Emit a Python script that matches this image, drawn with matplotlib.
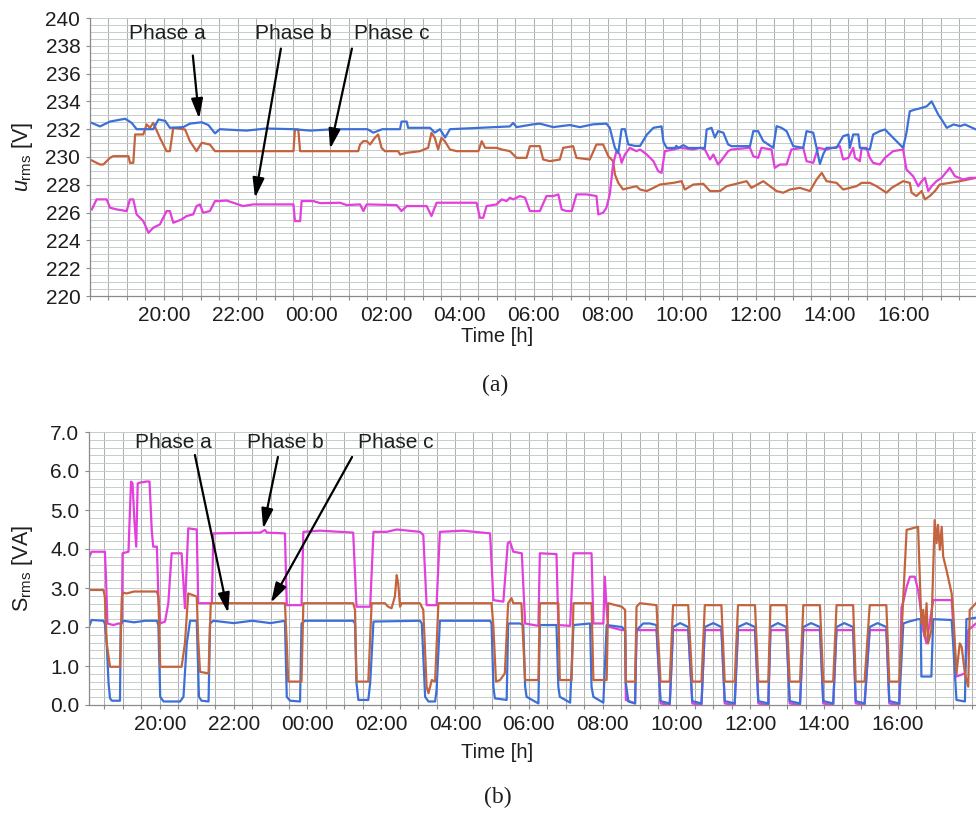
import matplotlib
matplotlib.use("Agg")
import matplotlib.pyplot as plt
from matplotlib.ticker import MultipleLocator, FixedLocator, FormatStrFormatter

plt.rcParams["font.family"] = ["Liberation Sans", "DejaVu Sans"]
plt.rcParams["mathtext.fontset"] = "custom"
plt.rcParams["mathtext.rm"] = "Liberation Sans"
plt.rcParams["mathtext.it"] = "Liberation Sans:italic"

# Time axis: clock hours, values above 24 belong to the following day
tick_hours = [20, 22, 24, 26, 28, 30, 32, 34, 36, 38, 40]
tick_labels = ["20:00", "22:00", "00:00", "02:00", "04:00", "06:00",
               "08:00", "10:00", "12:00", "14:00", "16:00"]

phase_names = ["Phase a", "Phase b", "Phase c"]
phase_colors = ["#3c70d8", "#e23fdc", "#c4643e"]

# ---------------- (a) RMS voltage [V] ----------------
u_a_hours = [18.05, 18.27, 18.54, 18.95, 19.13, 19.26, 19.71, 19.85, 20.03, 20.16,
             20.52, 20.70, 21.02, 21.20, 21.38, 21.51, 22.23, 22.77, 23.50, 23.95,
             24.60, 25.50, 25.66, 25.90, 26.38, 26.42, 26.56, 26.60, 27.19, 27.32,
             27.46, 27.60, 27.73, 28.54, 29.35, 29.44, 29.53, 29.98, 30.16, 30.52,
             30.97, 31.24, 31.60, 31.96, 32.05, 32.19, 32.28, 32.37, 32.46, 32.55,
             32.73, 32.87, 33.05, 33.23, 33.45, 33.50, 33.59, 33.81, 33.85, 33.90,
             34.04, 34.17, 34.62, 34.67, 34.80, 34.89, 34.98, 35.12, 35.25, 35.34,
             35.84, 35.93, 36.06, 36.20, 36.47, 36.56, 36.69, 36.83, 37.01, 37.28,
             37.37, 37.55, 37.64, 37.73, 37.82, 37.91, 38.18, 38.36, 38.50, 38.54,
             38.63, 38.77, 38.81, 39.08, 39.17, 39.35, 39.49, 39.71, 39.98, 40.07,
             40.16, 40.30, 40.48, 40.62, 40.75, 40.84, 40.93, 41.02, 41.16, 41.34,
             41.52, 41.65, 41.95]
u_a_volts = [232.45, 232.20, 232.55, 232.75, 232.45, 232.00, 232.00, 232.70, 232.60, 232.10,
             232.15, 232.40, 232.50, 232.30, 231.70, 232.00, 231.90, 232.05, 232.00, 231.90,
             232.00, 232.00, 231.75, 232.00, 232.00, 232.55, 232.55, 232.10, 232.10, 231.75,
             232.00, 231.40, 232.00, 232.10, 232.20, 232.45, 232.15, 232.35, 232.40, 232.15,
             232.30, 232.15, 232.35, 232.40, 232.10, 230.65, 230.30, 232.00, 232.00, 230.90,
             230.80, 230.80, 231.60, 232.10, 232.20, 231.10, 230.65, 230.65, 230.80, 230.65,
             230.85, 230.65, 230.65, 231.98, 232.10, 231.40, 231.86, 231.75, 230.90, 230.78,
             230.78, 231.86, 231.86, 231.14, 230.66, 232.22, 232.10, 231.86, 230.78, 230.66,
             231.86, 231.75, 230.66, 229.50, 230.20, 230.66, 230.66, 231.50, 231.62, 230.66,
             231.62, 231.62, 230.66, 230.54, 231.62, 231.86, 231.98, 231.38, 230.66, 231.74,
             233.29, 233.41, 233.53, 233.65, 234.00, 233.53, 233.05, 232.70, 232.10, 232.34,
             232.22, 232.34, 231.98]

u_b_hours = [18.05, 18.18, 18.45, 18.54, 18.72, 18.99, 19.08, 19.17, 19.26, 19.44,
             19.58, 19.71, 19.89, 20.07, 20.16, 20.25, 20.48, 20.61, 20.79, 20.88,
             20.97, 21.06, 21.24, 21.38, 21.51, 21.69, 21.87, 22.14, 22.41, 23.50,
             23.54, 23.68, 23.72, 24.04, 24.22, 24.76, 24.94, 25.30, 25.39, 25.48,
             26.29, 26.42, 26.56, 27.10, 27.23, 27.37, 28.45, 28.54, 28.63, 28.72,
             28.99, 29.13, 29.26, 29.35, 29.44, 29.62, 29.76, 29.89, 30.16, 30.34,
             30.52, 30.66, 30.75, 30.88, 31.02, 31.15, 31.42, 31.69, 31.74, 31.87,
             31.96, 32.05, 32.14, 32.23, 32.32, 32.37, 32.46, 32.59, 32.77, 32.87,
             33.05, 33.23, 33.36, 33.45, 33.54, 33.77, 33.95, 34.31, 34.49, 34.62,
             34.76, 34.85, 34.98, 35.12, 35.25, 35.34, 35.84, 35.93, 36.06, 36.15,
             36.42, 36.51, 36.65, 36.83, 36.96, 37.28, 37.37, 37.55, 37.68, 37.91,
             38.09, 38.27, 38.36, 38.50, 38.63, 38.68, 38.81, 38.86, 38.99, 39.08,
             39.17, 39.35, 39.49, 39.71, 39.98, 40.07, 40.25, 40.39, 40.48, 40.57,
             40.66, 40.75, 40.88, 41.02, 41.24, 41.38, 41.60, 41.78, 41.95]
u_b_volts = [226.23, 226.95, 226.95, 226.35, 226.23, 226.11, 226.95, 226.95, 225.87, 225.39,
             224.55, 224.91, 225.15, 226.11, 226.11, 225.27, 225.51, 225.75, 225.87, 226.47,
             226.59, 225.99, 226.11, 226.83, 226.83, 226.87, 226.71, 226.47, 226.59, 226.59,
             225.39, 225.39, 226.83, 226.83, 226.68, 226.71, 226.54, 226.59, 226.11, 226.59,
             226.54, 226.11, 226.47, 226.47, 225.75, 226.71, 226.71, 225.63, 225.63, 226.47,
             226.59, 226.95, 226.83, 227.07, 226.95, 227.19, 227.07, 226.11, 226.11, 227.19,
             227.19, 227.31, 226.23, 226.11, 226.11, 227.31, 227.31, 227.19, 225.87, 225.99,
             226.35, 227.31, 229.46, 230.42, 230.18, 229.58, 230.18, 230.66, 230.42, 230.54,
             230.18, 229.70, 228.98, 228.86, 230.42, 230.54, 230.66, 230.54, 230.66, 230.54,
             229.82, 230.18, 229.46, 229.94, 230.42, 230.54, 230.66, 230.06, 229.94, 230.66,
             230.54, 229.22, 229.46, 229.46, 230.54, 230.66, 229.70, 229.58, 230.66, 230.54,
             230.66, 230.78, 229.82, 229.94, 230.66, 229.94, 229.70, 230.66, 230.66, 229.94,
             229.58, 229.46, 229.94, 230.42, 230.54, 229.10, 228.62, 227.90, 228.26, 228.50,
             227.55, 227.90, 228.26, 228.50, 229.22, 228.62, 228.38, 228.50, 228.50]

u_c_hours = [18.05, 18.27, 18.36, 18.54, 18.63, 19.04, 19.08, 19.17, 19.22, 19.44,
             19.53, 19.62, 19.71, 19.89, 19.98, 20.07, 20.16, 20.25, 20.57, 20.70,
             20.88, 21.02, 21.24, 21.38, 23.50, 23.54, 23.63, 23.68, 25.25, 25.30,
             25.39, 25.48, 25.57, 25.70, 25.79, 25.88, 25.97, 26.33, 26.38, 26.56,
             26.92, 27.14, 27.23, 27.32, 27.41, 27.50, 27.59, 27.73, 27.91, 28.50,
             28.59, 28.68, 28.99, 29.13, 29.35, 29.53, 29.80, 29.89, 30.16, 30.25,
             30.43, 30.70, 30.79, 31.06, 31.15, 31.51, 31.69, 31.87, 32.01, 32.14,
             32.19, 32.28, 32.41, 32.77, 32.87, 33.05, 33.23, 33.41, 33.77, 33.99,
             34.08, 34.31, 34.58, 34.76, 35.03, 35.21, 35.57, 35.75, 35.88, 36.20,
             36.38, 36.56, 36.74, 36.92, 37.19, 37.46, 37.64, 37.78, 37.91, 38.18,
             38.36, 38.72, 38.86, 39.08, 39.26, 39.53, 39.67, 39.98, 40.16, 40.21,
             40.34, 40.48, 40.57, 40.70, 40.84, 40.97, 41.24, 41.51, 41.95]
u_c_volts = [229.75, 229.46, 229.46, 229.94, 230.06, 230.06, 229.58, 229.58, 231.62, 231.62,
             232.34, 232.10, 232.46, 231.38, 230.90, 230.42, 230.42, 232.10, 231.98, 231.14,
             230.42, 231.02, 230.90, 230.42, 230.42, 231.98, 231.98, 230.42, 230.42, 230.90,
             231.14, 231.14, 230.90, 231.38, 231.62, 230.66, 230.42, 230.42, 230.18, 230.30,
             230.42, 230.66, 231.74, 231.38, 230.54, 231.38, 231.14, 230.54, 230.42, 230.42,
             231.14, 230.66, 230.66, 230.54, 230.42, 229.94, 229.94, 230.78, 230.78, 229.82,
             229.70, 229.82, 230.66, 230.78, 229.94, 229.82, 230.90, 230.90, 230.06, 229.70,
             228.74, 228.14, 227.67, 227.90, 227.66, 227.55, 227.78, 228.02, 228.14, 228.26,
             227.66, 228.02, 228.07, 227.55, 227.55, 227.90, 228.14, 228.26, 227.78, 228.26,
             227.90, 227.55, 227.43, 227.66, 227.78, 227.55, 228.38, 228.86, 228.26, 228.14,
             227.66, 227.90, 228.14, 228.14, 227.90, 227.43, 227.78, 228.26, 228.14, 227.43,
             227.19, 227.55, 226.95, 227.19, 227.55, 228.02, 228.14, 228.26, 228.50]

# ---------------- (b) apparent power [VA] ----------------
s_a_hours = [18.09, 18.15, 18.47, 18.51, 18.56, 18.61, 18.65, 18.70, 18.92, 18.94,
             19.01, 19.30, 19.60, 19.92, 19.96, 20.01, 20.10, 20.55, 20.64, 20.73,
             20.82, 21.00, 21.06, 21.13, 21.32, 21.36, 21.45, 22.00, 22.50, 23.00,
             23.39, 23.44, 23.53, 23.80, 23.84, 23.93, 24.61, 25.24, 25.29, 25.33,
             25.38, 25.65, 25.70, 25.79, 27.05, 27.10, 27.19, 27.28, 27.46, 27.50,
             27.59, 28.95, 28.99, 29.04, 29.08, 29.40, 29.44, 29.76, 29.85, 29.90,
             29.94, 30.26, 30.30, 30.75, 30.80, 30.84, 31.12, 31.21, 31.66, 31.70,
             31.75, 32.02, 32.11, 32.52, 32.61, 32.63, 32.70, 32.88, 32.92, 33.10,
             33.28, 33.46, 33.57, 33.82, 33.91, 34.10, 34.32, 34.43, 34.68, 34.77,
             35.00, 35.22, 35.31, 35.58, 35.67, 35.90, 36.13, 36.22, 36.49, 36.55,
             36.75, 36.98, 37.07, 37.35, 37.44, 37.65, 37.89, 37.98, 38.25, 38.34,
             38.55, 38.79, 38.86, 39.10, 39.24, 39.45, 39.69, 39.77, 40.04, 40.15,
             40.30, 40.55, 40.62, 40.64, 40.91, 40.96, 41.46, 41.50, 41.59, 41.82,
             41.86, 42.12]
s_a_va = [2.03, 2.18, 2.16, 2.09, 1.58, 0.56, 0.17, 0.11, 0.11, 2.09,
          2.16, 2.12, 2.16, 2.16, 2.05, 0.21, 0.09, 0.09, 0.21, 1.58,
          2.16, 2.16, 0.21, 0.11, 0.09, 2.09, 2.16, 2.10, 2.16, 2.10,
          2.16, 0.21, 0.11, 0.09, 2.09, 2.16, 2.16, 2.16, 2.09, 0.56,
          0.13, 0.13, 0.56, 2.14, 2.16, 2.09, 0.21, 0.09, 0.09, 0.38,
          2.16, 2.16, 2.09, 0.47, 0.17, 0.13, 2.09, 2.09, 2.05, 0.47,
          0.21, 0.04, 2.05, 2.05, 0.47, 0.21, 0.06, 2.05, 2.09, 0.47,
          0.21, 0.06, 2.05, 2.00, 1.92, 0.56, 0.09, 0.04, 1.92, 2.09,
          2.09, 2.05, 0.10, 0.04, 2.00, 2.10, 2.00, 0.10, 0.04, 2.00,
          2.10, 2.00, 0.10, 0.04, 2.00, 2.10, 2.00, 0.10, 0.04, 2.00,
          2.10, 2.00, 0.10, 0.04, 2.00, 2.10, 2.00, 0.10, 0.04, 2.00,
          2.10, 2.00, 0.10, 0.04, 2.00, 2.10, 2.00, 0.10, 0.04, 2.09,
          2.14, 2.20, 2.20, 0.73, 0.73, 2.20, 2.18, 1.58, 0.13, 0.09,
          2.20, 2.24]

s_b_hours = [18.09, 18.15, 18.51, 18.54, 18.58, 18.74, 18.88, 18.97, 18.99, 19.15,
             19.19, 19.22, 19.26, 19.31, 19.36, 19.40, 19.45, 19.64, 19.72, 19.78,
             19.82, 19.92, 19.96, 20.01, 20.14, 20.23, 20.32, 20.59, 20.64, 20.68,
             20.77, 21.00, 21.04, 21.41, 21.45, 22.72, 22.85, 22.90, 23.39, 23.44,
             23.84, 23.89, 24.34, 25.24, 25.33, 25.70, 25.79, 26.15, 26.42, 27.05,
             27.14, 27.23, 27.50, 27.59, 28.22, 28.95, 29.04, 29.31, 29.43, 29.49,
             29.58, 29.81, 29.90, 30.26, 30.30, 30.75, 30.80, 31.12, 31.21, 31.70,
             31.75, 32.02, 32.06, 32.11, 32.15, 32.52, 32.61, 32.63, 32.88, 32.92,
             33.46, 33.57, 33.82, 33.91, 34.32, 34.43, 34.68, 34.77, 35.22, 35.31,
             35.58, 35.67, 36.13, 36.22, 36.49, 36.55, 36.98, 37.07, 37.35, 37.44,
             37.89, 37.98, 38.25, 38.34, 38.79, 38.86, 39.10, 39.24, 39.69, 39.77,
             40.04, 40.10, 40.15, 40.24, 40.33, 40.46, 40.55, 40.60, 40.69, 40.78,
             40.96, 41.46, 41.50, 41.59, 41.82, 41.91, 42.12]
s_b_va = [3.80, 3.93, 3.93, 3.29, 2.09, 2.05, 2.09, 2.09, 3.89, 3.93,
          5.00, 5.73, 5.68, 4.74, 4.06, 5.68, 5.70, 5.73, 5.73, 4.49,
          4.06, 4.06, 2.78, 2.09, 2.14, 2.61, 3.89, 3.89, 3.12, 2.48,
          4.53, 4.50, 2.61, 2.61, 4.40, 4.42, 4.49, 4.42, 4.40, 2.56,
          2.56, 4.44, 4.47, 4.42, 2.52, 2.52, 4.44, 4.44, 4.50, 4.44,
          4.36, 2.56, 2.56, 4.44, 4.47, 4.40, 2.69, 2.65, 4.15, 4.19,
          3.93, 3.89, 2.09, 2.03, 3.89, 3.87, 2.05, 2.03, 3.89, 3.89,
          2.09, 2.09, 3.29, 2.44, 2.01, 1.92, 1.92, 0.13, 0.04, 1.92,
          1.92, 0.04, 0.00, 1.92, 1.92, 0.04, 0.00, 1.92, 1.92, 0.04,
          0.00, 1.92, 1.92, 0.04, 0.00, 1.92, 1.92, 0.04, 0.00, 1.92,
          1.92, 0.04, 0.00, 1.92, 1.92, 0.04, 0.00, 1.92, 1.92, 0.04,
          0.00, 2.50, 2.65, 3.03, 3.29, 3.29, 2.95, 2.61, 1.90, 1.58,
          2.69, 2.69, 2.09, 0.73, 0.81, 1.92, 2.09]

s_c_hours = [18.09, 18.47, 18.51, 18.56, 18.65, 18.92, 18.97, 19.01, 19.10, 19.30,
             19.92, 19.96, 20.01, 20.59, 20.68, 20.77, 21.00, 21.04, 21.09, 21.32,
             21.38, 23.39, 23.44, 23.48, 23.84, 23.89, 25.24, 25.29, 25.33, 25.65,
             25.74, 26.10, 26.19, 26.28, 26.37, 26.42, 26.46, 26.51, 26.55, 27.05,
             27.14, 27.23, 27.28, 27.37, 27.46, 27.55, 28.99, 29.04, 29.11, 29.22,
             29.35, 29.44, 29.53, 29.58, 29.80, 29.90, 30.26, 30.30, 30.80, 30.84,
             31.16, 31.21, 31.70, 31.75, 32.11, 32.15, 32.52, 32.61, 32.63, 32.88,
             32.92, 33.01, 33.46, 33.57, 33.82, 33.91, 34.32, 34.43, 34.68, 34.77,
             35.22, 35.31, 35.58, 35.67, 36.13, 36.22, 36.49, 36.55, 36.98, 37.07,
             37.35, 37.44, 37.89, 37.98, 38.25, 38.34, 38.79, 38.86, 39.10, 39.24,
             39.69, 39.77, 40.04, 40.15, 40.24, 40.55, 40.62, 40.64, 40.69, 40.73,
             40.78, 40.82, 40.91, 41.00, 41.05, 41.09, 41.14, 41.19, 41.23, 41.32,
             41.46, 41.50, 41.59, 41.68, 41.73, 41.82, 41.91, 41.95, 42.12]
s_c_va = [2.95, 2.95, 2.78, 1.58, 0.98, 0.98, 2.78, 2.88, 2.86, 2.91,
          2.91, 2.78, 0.98, 0.98, 1.58, 2.86, 2.78, 1.67, 0.85, 0.81,
          2.61, 2.61, 1.58, 0.60, 0.60, 2.61, 2.61, 2.44, 0.60, 0.60,
          2.61, 2.61, 2.52, 2.48, 2.78, 3.33, 3.12, 2.52, 2.61, 2.61,
          2.44, 0.47, 0.30, 0.64, 0.60, 2.61, 2.61, 2.01, 0.60, 0.64,
          0.81, 2.61, 2.74, 2.61, 2.61, 0.64, 0.64, 2.61, 2.61, 0.64,
          0.64, 2.61, 2.61, 0.64, 0.64, 2.61, 2.52, 2.44, 0.60, 0.60,
          2.52, 2.61, 2.56, 0.60, 0.60, 2.56, 2.56, 0.60, 0.60, 2.56,
          2.56, 0.60, 0.60, 2.56, 2.56, 0.60, 0.60, 2.56, 2.56, 0.60,
          0.60, 2.56, 2.56, 0.60, 0.60, 2.56, 2.56, 0.60, 0.60, 2.56,
          2.56, 0.60, 0.60, 2.78, 4.49, 4.57, 2.61, 2.09, 2.44, 1.75,
          2.61, 1.58, 1.92, 4.74, 4.15, 4.62, 3.98, 4.57, 3.81, 3.46,
          2.86, 2.44, 0.81, 1.58, 1.50, 0.81, 0.47, 2.44, 2.61]

W, H = 976, 816
fig = plt.figure(figsize=(W / 100, H / 100), dpi=100)
fig.patch.set_facecolor("white")


def px_axes(left, top, right, bottom):
    return fig.add_axes([left / W, 1 - bottom / H, (right - left) / W, (bottom - top) / H])


ax_u = px_axes(90, 18, 976, 296)
ax_s = px_axes(89, 432, 976, 705)

tick_color = "#1e1e1e"


def style_axes(ax, ylim, ymajor, yminor, yfmt, xlim):
    ax.set_xlim(*xlim)
    ax.set_ylim(*ylim)
    ax.xaxis.set_major_locator(FixedLocator(tick_hours))
    ax.set_xticklabels(tick_labels)
    ax.xaxis.set_minor_locator(MultipleLocator(0.5))
    ax.yaxis.set_major_locator(MultipleLocator(ymajor))
    ax.yaxis.set_minor_locator(MultipleLocator(yminor))
    ax.yaxis.set_major_formatter(FormatStrFormatter(yfmt))
    ax.grid(which="both", axis="x", color="#b0b0b0", lw=0.75)
    ax.grid(which="both", axis="y", color="#c3cecb", lw=0.7)
    ax.set_axisbelow(True)
    for side in ("top", "right"):
        ax.spines[side].set_visible(False)
    for side in ("left", "bottom"):
        ax.spines[side].set_color("#8a8a8a")
        ax.spines[side].set_linewidth(0.9)
    ax.tick_params(axis="both", which="major", labelsize=15, colors="#8a8a8a",
                   labelcolor=tick_color, length=3, width=0.8, pad=4)
    ax.tick_params(axis="x", which="minor", length=3, width=0.8, colors="#8a8a8a")
    ax.tick_params(axis="y", which="minor", length=0)


style_axes(ax_u, (220, 240), 2, 0.5, "%d", (18.0, 41.95))
style_axes(ax_s, (0, 7), 1, 0.2, "%.1f", (18.08, 42.12))

line_kw = dict(lw=1.6, solid_joinstyle="round")
ax_u.plot(u_c_hours, u_c_volts, color=phase_colors[2], **line_kw)
ax_u.plot(u_b_hours, u_b_volts, color=phase_colors[1], **line_kw)
ax_u.plot(u_a_hours, u_a_volts, color=phase_colors[0], **line_kw)

ax_s.plot(s_b_hours, s_b_va, color=phase_colors[1], **line_kw)
ax_s.plot(s_a_hours, s_a_va, color=phase_colors[0], **line_kw)
ax_s.plot(s_c_hours, s_c_va, color=phase_colors[2], **line_kw)

arrow_kw = dict(arrowstyle="-|>,head_length=0.75,head_width=0.22", color="black",
                lw=1.6, mutation_scale=16, shrinkA=0, shrinkB=0)

# label position, arrow tail, arrow head (data coordinates)
u_callouts = [((20.08, 238.85), (20.78, 237.3), (20.95, 232.75)),
              ((23.49, 238.85), (23.16, 237.8), (22.46, 227.05)),
              ((26.16, 238.85), (25.08, 237.8), (24.49, 230.58))]
s_callouts = [((20.36, 6.72), (20.95, 6.41), (21.85, 2.36)),
              ((23.39, 6.72), (23.20, 6.36), (22.80, 4.52)),
              ((26.40, 6.72), (25.21, 6.36), (23.01, 2.62))]

for ax, callouts in ((ax_u, u_callouts), (ax_s, s_callouts)):
    for name, (txt, tail, head) in zip(phase_names, callouts):
        ax.text(txt[0], txt[1], name, ha="center", va="center", fontsize=15,
                color="#1e1e1e", zorder=5)
        ax.annotate("", xy=head, xytext=tail, arrowprops=arrow_kw, zorder=6)

# y labels: right edge of the rotated text about 34 px from the figure's left edge
ax_u.set_ylabel(r"$u_{\mathrm{rms}}$ [V]", fontsize=15.5, color="#1e1e1e")
ax_s.set_ylabel(r"S$_{\mathrm{rms}}$ [VA]", fontsize=15.5, color="#1e1e1e")
ax_u.yaxis.set_label_coords(-(90 - 35) / 886, 0.5)
ax_s.yaxis.set_label_coords(-(89 - 35) / 887, 0.5)

fig.text(497 / W, 1 - 337 / H, "Time [h]", ha="center", va="center", fontsize=14.5,
         color="#1e1e1e")
fig.text(497 / W, 1 - 752 / H, "Time [h]", ha="center", va="center", fontsize=14.5,
         color="#1e1e1e")
fig.text(495 / W, 1 - 385 / H, "(a)", ha="center", va="center", fontsize=17,
         family="Liberation Serif", color="#1e1e1e")
fig.text(498 / W, 1 - 797 / H, "(b)", ha="center", va="center", fontsize=17,
         family="Liberation Serif", color="#1e1e1e")

fig.savefig("out.png", dpi=100, facecolor="white")
